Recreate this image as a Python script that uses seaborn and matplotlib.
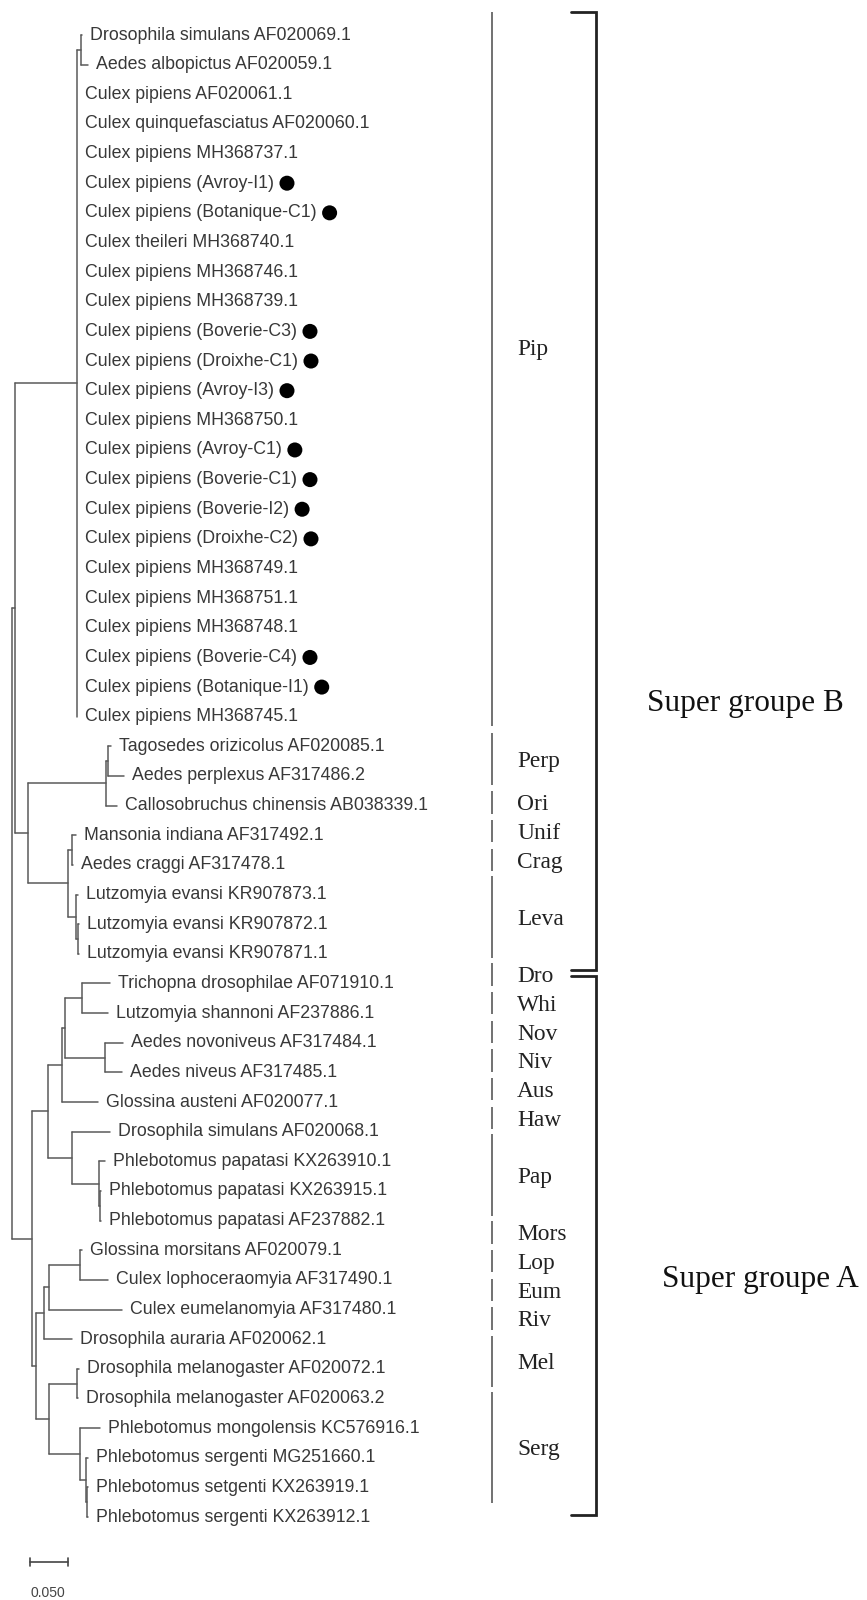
import numpy as np
import pandas as pd
import matplotlib
matplotlib.use("Agg")
import matplotlib.pyplot as plt
import seaborn as sns

# ---------------- data ----------------
taxa = [
    "Drosophila simulans AF020069.1", "Aedes albopictus AF020059.1",
    "Culex pipiens AF020061.1", "Culex quinquefasciatus AF020060.1",
    "Culex pipiens MH368737.1", "Culex pipiens (Avroy-I1)",
    "Culex pipiens (Botanique-C1)", "Culex theileri MH368740.1",
    "Culex pipiens MH368746.1", "Culex pipiens MH368739.1",
    "Culex pipiens (Boverie-C3)", "Culex pipiens (Droixhe-C1)",
    "Culex pipiens (Avroy-I3)", "Culex pipiens MH368750.1",
    "Culex pipiens (Avroy-C1)", "Culex pipiens (Boverie-C1)",
    "Culex pipiens (Boverie-I2)", "Culex pipiens (Droixhe-C2)",
    "Culex pipiens MH368749.1", "Culex pipiens MH368751.1",
    "Culex pipiens MH368748.1", "Culex pipiens (Boverie-C4)",
    "Culex pipiens (Botanique-I1)", "Culex pipiens MH368745.1",
    "Tagosedes orizicolus AF020085.1", "Aedes perplexus AF317486.2",
    "Callosobruchus chinensis AB038339.1", "Mansonia indiana AF317492.1",
    "Aedes craggi AF317478.1", "Lutzomyia evansi KR907873.1",
    "Lutzomyia evansi KR907872.1", "Lutzomyia evansi KR907871.1",
    "Trichopna drosophilae AF071910.1", "Lutzomyia shannoni AF237886.1",
    "Aedes novoniveus AF317484.1", "Aedes niveus AF317485.1",
    "Glossina austeni AF020077.1", "Drosophila simulans AF020068.1",
    "Phlebotomus papatasi KX263910.1", "Phlebotomus papatasi KX263915.1",
    "Phlebotomus papatasi AF237882.1", "Glossina morsitans AF020079.1",
    "Culex lophoceraomyia AF317490.1", "Culex eumelanomyia AF317480.1",
    "Drosophila auraria AF020062.1", "Drosophila melanogaster AF020072.1",
    "Drosophila melanogaster AF020063.2", "Phlebotomus mongolensis KC576916.1",
    "Phlebotomus sergenti MG251660.1", "Phlebotomus setgenti KX263919.1",
    "Phlebotomus sergenti KX263912.1",
]

# terminal branch lengths (substitutions/site)
tip_lengths = [
    0.0013, 0.0092,
    0.0, 0.0, 0.0, 0.0, 0.0, 0.0, 0.0, 0.0, 0.0, 0.0, 0.0, 0.0, 0.0, 0.0,
    0.0, 0.0, 0.0, 0.0, 0.0, 0.0, 0.0, 0.0,
    0.0039, 0.0211, 0.0145, 0.0053, 0.0013, 0.0026, 0.0013, 0.0013,
    0.0368, 0.0342, 0.0237, 0.0224, 0.0474, 0.0500, 0.0079, 0.0013, 0.0013,
    0.0026, 0.0368, 0.0961, 0.0368, 0.0026, 0.0013, 0.0263, 0.0026, 0.0013,
    0.0013,
]

# internal clades as contiguous leaf ranges with stem lengths
clade_first = [0, 0, 0, 0, 24, 24, 24, 27, 27, 29, 30,
               32, 32, 32, 32, 32, 34, 37, 38, 39,
               41, 41, 41, 41, 45, 45, 47, 48, 49]
clade_last = [50, 31, 23, 1, 31, 26, 25, 31, 28, 31, 31,
              50, 40, 36, 35, 33, 35, 40, 40, 40,
              50, 44, 43, 42, 50, 46, 50, 50, 50]
clade_lengths = [0.0, 0.0046, 0.0809, 0.0053, 0.0164, 0.1026, 0.0026, 0.0526,
                 0.0053, 0.0105, 0.0026,
                 0.0263, 0.0211, 0.0184, 0.0039, 0.0224, 0.0526, 0.0316,
                 0.0355, 0.0013,
                 0.0053, 0.0105, 0.0066, 0.0408, 0.0171, 0.0368, 0.0408,
                 0.0079, 0.0013]

marked_taxa = [
    "Culex pipiens (Avroy-I1)", "Culex pipiens (Botanique-C1)",
    "Culex pipiens (Boverie-C3)", "Culex pipiens (Droixhe-C1)",
    "Culex pipiens (Avroy-I3)", "Culex pipiens (Avroy-C1)",
    "Culex pipiens (Boverie-C1)", "Culex pipiens (Boverie-I2)",
    "Culex pipiens (Droixhe-C2)", "Culex pipiens (Boverie-C4)",
    "Culex pipiens (Botanique-I1)",
]

group_names = ["Pip", "Perp", "Ori", "Unif", "Crag", "Leva", "Dro", "Whi",
               "Nov", "Niv", "Aus", "Haw", "Pap", "Mors", "Lop", "Eum",
               "Riv", "Mel", "Serg"]
group_first = [0, 24, 26, 27, 28, 29, 32, 33, 34, 35, 36, 37, 38, 41, 42,
               43, 44, 45, 47]
group_last = [23, 25, 26, 27, 28, 31, 32, 33, 34, 35, 36, 37, 40, 41, 42,
              43, 44, 46, 50]

super_names = ["Super groupe B", "Super groupe A"]
super_first = [0, 32]
super_last = [31, 50]

scale_value = 0.050
scale_label = "0.050"

# ---------------- layout helpers ----------------
W, H = 867, 1600
PXU = 760.0      # pixels per substitution unit
X0, Y0, DY = 12.0, 35.0, 29.64


def px_x(p):
    return (p - X0) / PXU


def px_y(p):
    return (p - Y0) / DY


sns.set_theme(style="white")
plt.rcParams['font.family'] = ['Liberation Sans', 'DejaVu Sans']

fig = plt.figure(figsize=(W / 100, H / 100), dpi=100)
ax = fig.add_axes([0, 0, 1, 1])

# ---------------- tree layout ----------------
n = len(taxa)
clades = sorted(zip(clade_first, clade_last, clade_lengths),
                key=lambda c: -(c[1] - c[0]))


def parent_of(first, last):
    best, best_size = None, None
    for j, (f, l, _) in enumerate(clades):
        if (f, l) == (first, last):
            continue
        if f <= first and last <= l:
            size = l - f
            if best is None or size < best_size:
                best, best_size = j, size
    return best


cl_parent = [parent_of(f, l) for f, l, _ in clades]
cl_x = [0.0] * len(clades)
for j, (f, l, ln) in enumerate(clades):
    p = cl_parent[j]
    cl_x[j] = (cl_x[p] if p is not None else 0.0) + ln

leaf_parent = [parent_of(i, i) for i in range(n)]
leaf_x = [cl_x[leaf_parent[i]] + tip_lengths[i] for i in range(n)]

children = {j: [] for j in range(len(clades))}
for j in range(1, len(clades)):
    children[cl_parent[j]].append(("c", j, clades[j][0]))
for i in range(n):
    children[leaf_parent[i]].append(("l", i, i))
for j in children:
    children[j].sort(key=lambda t: t[2])

cl_y = [None] * len(clades)
for j in sorted(range(len(clades)), key=lambda k: clades[k][1] - clades[k][0]):
    ys = [(cl_y[k] if kind == "c" else k) for kind, k, _ in children[j]]
    cl_y[j] = (ys[0] + ys[-1]) / 2.0

rows = []
seg = 0
for j in range(len(clades)):
    ys = [(cl_y[k] if kind == "c" else k) for kind, k, _ in children[j]]
    rows += [(seg, cl_x[j], ys[0]), (seg, cl_x[j], ys[-1])]
    seg += 1
    if cl_parent[j] is not None:
        px = cl_x[cl_parent[j]]
        rows += [(seg, px, cl_y[j]), (seg, cl_x[j], cl_y[j])]
        seg += 1
for i in range(n):
    px = cl_x[leaf_parent[i]]
    if leaf_x[i] > px:
        rows += [(seg, px, i), (seg, leaf_x[i], i)]
        seg += 1
segs = pd.DataFrame(rows, columns=["seg", "x", "y"])

sns.lineplot(data=segs, x="x", y="y", units="seg", estimator=None,
             sort=False, color="#5a5a5a", linewidth=1.1, ax=ax, legend=False)

# leaf labels
texts = {}
for i, name in enumerate(taxa):
    t = ax.text(leaf_x[i] + 8 / PXU, i, name, ha="left", va="center",
                fontsize=12.8, color="#383838")
    texts[name] = (t, i)

ax.set_xlim(px_x(0), px_x(W))
ax.set_ylim(px_y(H), px_y(0))
ax.axis("off")

# markers after labels
fig.canvas.draw()
renderer = fig.canvas.get_renderer()
inv = ax.transData.inverted()
dots = []
for name in marked_taxa:
    t, i = texts[name]
    bb = t.get_window_extent(renderer)
    xd = bb.x1 + 13
    xdat = inv.transform((xd, 0))[0]
    dots.append((xdat, i))
dots = pd.DataFrame(dots, columns=["x", "y"])
sns.scatterplot(data=dots, x="x", y="y", s=117, color="black",
                edgecolor="none", ax=ax, legend=False)


# group bars and labels (hand-drawn column drifts slightly upwards lower down)
def drift(yc):
    ypx = Y0 + yc * DY
    return -0.033 * max(0.0, ypx - 780) / DY


for name, f, l in zip(group_names, group_first, group_last):
    yc = (f + l) / 2
    d = drift(yc)
    top = f - (0.78 if l - f > 10 else 0.45)
    ax.plot([px_x(492)] * 2, [top + d, l + 0.3 + d],
            color="#666666", lw=1.3, solid_capstyle="butt")
    lab_y = yc + d - (0.9 if l - f > 10 else 0.0)
    ax.text(px_x(517), lab_y, name, ha="left", va="center",
            fontsize=16.8, color="#222222", family=["Liberation Serif"])

# super group brackets
boundary = (super_last[0] + super_first[1]) / 2.0
b_top, b_bot = super_first[0] - 0.78, boundary + 0.05
a_top, a_bot = boundary + 0.25, super_last[1] - 0.07
bx = px_x(596)
bl = px_x(571)
for top, bot in [(b_top, b_bot), (a_top, a_bot)]:
    ax.plot([bl, bx, bx, bl], [top, top, bot, bot], color="#222222", lw=2.0,
            solid_joinstyle="miter")
ax.text(px_x(647), px_y(704), super_names[0], ha="left", va="center",
        fontsize=22.5, color="#111111", family=["Liberation Serif"])
ax.text(px_x(662), px_y(1280), super_names[1], ha="left", va="center",
        fontsize=22.5, color="#111111", family=["Liberation Serif"])

# scale bar
sx0 = px_x(30)
sy = px_y(1562)
ax.plot([sx0, sx0 + scale_value], [sy, sy], color="#444444", lw=1.2)
for xx in (sx0, sx0 + scale_value):
    ax.plot([xx, xx], [sy - 0.12, sy + 0.12], color="#444444", lw=1.2)
ax.text(sx0 + scale_value / 2 - 1.5 / PXU, px_y(1593), scale_label,
        ha="center", va="center", fontsize=10, color="#444444")

fig.savefig("out.png", dpi=100, facecolor="white")
